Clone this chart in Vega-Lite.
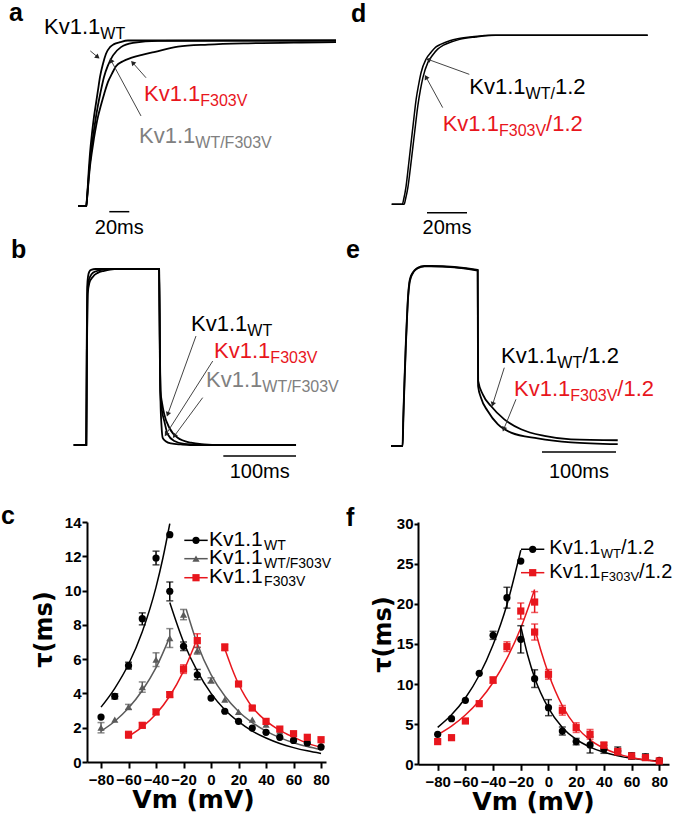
{
"$schema": "https://vega.github.io/schema/vega-lite/v6.json",
"padding": 0,
"background": "white",
"columns": 2,
"spacing": 0,
"bounds": "flush",
"resolve": {"scale": {"color": "independent", "shape": "independent"}},
"config": {
  "view": {"stroke": null},
  "font": "Liberation Sans",
  "axis": {"grid": false, "domainColor": "#000", "domainWidth": 2, "tickColor": "#000", "tickWidth": 2, "tickSize": 5, "labelFont": "Liberation Sans", "labelFontSize": 15, "labelFontWeight": "bold", "labelColor": "#000", "titleFont": "DejaVu Sans", "titleFontWeight": "bold", "titleColor": "#000"}
},
"concat": [
{
"width": 331, "height": 230,
"encoding": {
 "x": {"field": "t", "type": "quantitative", "scale": {"domain": [9, 340], "nice": false, "zero": false}, "axis": null},
 "y": {"field": "v", "type": "quantitative", "scale": {"domain": [-0.1511, 1.2387], "nice": false, "zero": false}, "axis": null}
},
"layer": [
 {"data": {"values": [
  {"run":"WT","t":0,"v":0},{"run":"WT","t":8,"v":0},{"run":"WT","t":9,"v":0.05},{"run":"WT","t":10,"v":0.14},{"run":"WT","t":11,"v":0.24},{"run":"WT","t":12,"v":0.32},{"run":"WT","t":14,"v":0.44},{"run":"WT","t":16,"v":0.54},{"run":"WT","t":18,"v":0.62},{"run":"WT","t":20,"v":0.7},{"run":"WT","t":22,"v":0.78},{"run":"WT","t":25,"v":0.86},{"run":"WT","t":28,"v":0.92},{"run":"WT","t":32,"v":0.96},{"run":"WT","t":36,"v":0.978},{"run":"WT","t":42,"v":0.99},{"run":"WT","t":50,"v":1},{"run":"WT","t":258,"v":1},
  {"run":"M","t":0,"v":0},{"run":"M","t":8.3,"v":0},{"run":"M","t":9,"v":0.04},{"run":"M","t":10,"v":0.12},{"run":"M","t":11,"v":0.2},{"run":"M","t":12,"v":0.26},{"run":"M","t":14,"v":0.37},{"run":"M","t":16,"v":0.46},{"run":"M","t":18,"v":0.54},{"run":"M","t":20,"v":0.61},{"run":"M","t":22.3,"v":0.68},{"run":"M","t":26,"v":0.78},{"run":"M","t":30,"v":0.85},{"run":"M","t":35,"v":0.91},{"run":"M","t":43,"v":0.96},{"run":"M","t":55,"v":0.985},{"run":"M","t":80,"v":0.998},{"run":"M","t":258,"v":1},
  {"run":"F","t":0,"v":0},{"run":"F","t":8.5,"v":0},{"run":"F","t":9,"v":0.04},{"run":"F","t":10,"v":0.11},{"run":"F","t":11,"v":0.18},{"run":"F","t":12,"v":0.24},{"run":"F","t":14,"v":0.33},{"run":"F","t":16,"v":0.41},{"run":"F","t":18,"v":0.48},{"run":"F","t":20,"v":0.54},{"run":"F","t":23,"v":0.61},{"run":"F","t":26.3,"v":0.68},{"run":"F","t":30,"v":0.75},{"run":"F","t":34,"v":0.8},{"run":"F","t":38,"v":0.845},{"run":"F","t":45,"v":0.875},{"run":"F","t":53,"v":0.895},{"run":"F","t":65,"v":0.915},{"run":"F","t":76,"v":0.93},{"run":"F","t":100,"v":0.963},{"run":"F","t":130,"v":0.975},{"run":"F","t":170,"v":0.983},{"run":"F","t":223,"v":0.988},{"run":"F","t":258,"v":0.99}
 ]}, "mark": {"type": "line", "color": "#000", "strokeWidth": 1.8, "interpolate": "monotone"}, "encoding": {"detail": {"field": "run", "type": "nominal"}}},
 {"data": {"values": [{"t": 31.3, "t2": 51.3, "v": -0.0344}]}, "mark": {"type": "rule", "color": "#000", "strokeWidth": 1.5}, "encoding": {"x2": {"field": "t2"}}},
 {"data": {"values": [{"t":12.3,"v":0.937,"t2":19.7,"v2":0.9},{"t":68,"v":0.775,"t2":54.7,"v2":0.866},{"t":63,"v":0.544,"t2":33,"v2":0.88}]}, "mark": {"type": "rule", "color": "#444", "strokeWidth": 1}, "encoding": {"x2": {"field": "t2"}, "y2": {"field": "v2"}}},
 {"data": {"values": [{"t": 19.7, "v": 0.9}]}, "mark": {"type": "point", "shape": "triangle-up", "filled": true, "size": 30, "angle": 129, "color": "#222", "opacity": 1}},
 {"data": {"values": [{"t": 54.7, "v": 0.866}]}, "mark": {"type": "point", "shape": "triangle-up", "filled": true, "size": 30, "angle": 318, "color": "#222", "opacity": 1}},
 {"data": {"values": [{"t": 33, "v": 0.88}]}, "mark": {"type": "point", "shape": "triangle-up", "filled": true, "size": 30, "angle": 332, "color": "#222", "opacity": 1}},
 {"data": {"values": [{"t":-34,"v":1.039,"label":"Kv1.1","variant":"WT"},{"t":66,"v":0.634,"label":"Kv1.1","variant":"F303V"},{"t":61,"v":0.382,"label":"Kv1.1","variant":"WT/F303V"}]},
  "mark": {"type": "text", "align": "left", "baseline": "alphabetic", "fontSize": 22, "font": "Liberation Sans"},
  "encoding": {"text": {"field": "label", "type": "nominal"}, "color": {"field": "variant", "type": "nominal", "scale": {"domain": ["WT", "F303V", "WT/F303V"], "range": ["#000000", "#e8161d", "#808080"]}, "legend": null}}},
 {"data": {"values": [{"t":22.3,"v":1.009,"label":"WT","variant":"WT"},{"t":122.3,"v":0.604,"label":"F303V","variant":"F303V"},{"t":117.3,"v":0.352,"label":"WT/F303V","variant":"WT/F303V"}]},
  "mark": {"type": "text", "align": "left", "baseline": "alphabetic", "fontSize": 16, "font": "Liberation Sans"},
  "encoding": {"text": {"field": "label", "type": "nominal"}, "color": {"field": "variant", "type": "nominal", "scale": {"domain": ["WT", "F303V", "WT/F303V"], "range": ["#000000", "#e8161d", "#808080"]}, "legend": null}}},
 {"data": {"values": [{"t": 41.3, "v": -0.169, "label": "20ms"}]}, "mark": {"type": "text", "align": "center", "baseline": "alphabetic", "fontSize": 20, "font": "Liberation Sans", "color": "#000"}, "encoding": {"text": {"field": "label", "type": "nominal"}}},
 {"data": {"values": [{"t": -69, "v": 1.118, "label": "a"}]}, "mark": {"type": "text", "align": "left", "baseline": "alphabetic", "fontSize": 25, "fontWeight": "bold", "font": "Liberation Sans", "color": "#000"}, "encoding": {"text": {"field": "label", "type": "nominal"}}}
]
},
{
"width": 258, "height": 230,
"encoding": {
 "x": {"field": "t", "type": "quantitative", "scale": {"domain": [13.15, 142.15], "nice": false, "zero": false}, "axis": null},
 "y": {"field": "v", "type": "quantitative", "scale": {"domain": [-0.158, 1.203], "nice": false, "zero": false}, "axis": null}
},
"layer": [
 {"data": {"values": [
  {"run":"A","t":0,"v":0},{"run":"A","t":5.3,"v":0},{"run":"A","t":6,"v":0.03},{"run":"A","t":7.2,"v":0.108},{"run":"A","t":8.5,"v":0.24},{"run":"A","t":9.7,"v":0.365},{"run":"A","t":11,"v":0.5},{"run":"A","t":12.2,"v":0.62},{"run":"A","t":13.5,"v":0.71},{"run":"A","t":14.7,"v":0.78},{"run":"A","t":17.2,"v":0.86},{"run":"A","t":19.7,"v":0.9},{"run":"A","t":22,"v":0.93},{"run":"A","t":24.7,"v":0.948},{"run":"A","t":29,"v":0.968},{"run":"A","t":33,"v":0.98},{"run":"A","t":41.3,"v":0.993},{"run":"A","t":50,"v":1},{"run":"A","t":128,"v":1},
  {"run":"B","t":0,"v":0},{"run":"B","t":6.2,"v":0},{"run":"B","t":6.9,"v":0.03},{"run":"B","t":8.1,"v":0.1},{"run":"B","t":9.4,"v":0.22},{"run":"B","t":10.6,"v":0.34},{"run":"B","t":11.9,"v":0.47},{"run":"B","t":13.1,"v":0.585},{"run":"B","t":14.4,"v":0.68},{"run":"B","t":15.6,"v":0.75},{"run":"B","t":18.1,"v":0.84},{"run":"B","t":20.6,"v":0.885},{"run":"B","t":23,"v":0.918},{"run":"B","t":25.6,"v":0.94},{"run":"B","t":30,"v":0.962},{"run":"B","t":34,"v":0.976},{"run":"B","t":42,"v":0.99},{"run":"B","t":52,"v":1},{"run":"B","t":128,"v":1}
 ]}, "mark": {"type": "line", "color": "#000", "strokeWidth": 1.5, "interpolate": "monotone"}, "encoding": {"detail": {"field": "run", "type": "nominal"}}},
 {"data": {"values": [{"t": 17.65, "t2": 37.65, "v": -0.0497}]}, "mark": {"type": "rule", "color": "#000", "strokeWidth": 1.5}, "encoding": {"x2": {"field": "t2"}}},
 {"data": {"values": [{"t":38.8,"v":0.769,"t2":18.3,"v2":0.857},{"t":25.5,"v":0.572,"t2":17.15,"v2":0.753}]}, "mark": {"type": "rule", "color": "#444", "strokeWidth": 1}, "encoding": {"x2": {"field": "t2"}, "y2": {"field": "v2"}}},
 {"data": {"values": [{"t": 18.3, "v": 0.857}]}, "mark": {"type": "point", "shape": "triangle-up", "filled": true, "size": 30, "angle": 290, "color": "#222", "opacity": 1}},
 {"data": {"values": [{"t": 17.15, "v": 0.753}]}, "mark": {"type": "point", "shape": "triangle-up", "filled": true, "size": 30, "angle": 331, "color": "#222", "opacity": 1}},
 {"data": {"values": [{"t":38.8,"v":0.651,"label":"Kv1.1","variant":"WT"},{"t":81.6,"v":0.651,"label":"1.2","variant":"WT"},{"t":25.5,"v":0.434,"label":"Kv1.1","variant":"F303V"},{"t":77.2,"v":0.434,"label":"/1.2","variant":"F303V"}]},
  "mark": {"type": "text", "align": "left", "baseline": "alphabetic", "fontSize": 22, "font": "Liberation Sans"},
  "encoding": {"text": {"field": "label", "type": "nominal"}, "color": {"field": "variant", "type": "nominal", "scale": {"domain": ["WT", "F303V"], "range": ["#000000", "#e8161d"]}, "legend": null}}},
 {"data": {"values": [{"t":66.95,"v":0.621,"label":"WT/","variant":"WT"},{"t":53.65,"v":0.404,"label":"F303V","variant":"F303V"}]},
  "mark": {"type": "text", "align": "left", "baseline": "alphabetic", "fontSize": 16, "font": "Liberation Sans"},
  "encoding": {"text": {"field": "label", "type": "nominal"}, "color": {"field": "variant", "type": "nominal", "scale": {"domain": ["WT", "F303V"], "range": ["#000000", "#e8161d"]}, "legend": null}}},
 {"data": {"values": [{"t": 27.65, "v": -0.176, "label": "20ms"}]}, "mark": {"type": "text", "align": "center", "baseline": "alphabetic", "fontSize": 20, "font": "Liberation Sans", "color": "#000"}, "encoding": {"text": {"field": "label", "type": "nominal"}}},
 {"data": {"values": [{"t": -20.35, "v": 1.078, "label": "d"}]}, "mark": {"type": "text", "align": "left", "baseline": "alphabetic", "fontSize": 25, "fontWeight": "bold", "font": "Liberation Sans", "color": "#000"}, "encoding": {"text": {"field": "label", "type": "nominal"}}}
]
},
{
"width": 331, "height": 291,
"encoding": {
 "x": {"field": "t", "type": "quantitative", "scale": {"domain": [18.29, 473.59], "nice": false, "zero": false}, "axis": null},
 "y": {"field": "v", "type": "quantitative", "scale": {"domain": [-0.4375, 1.2159], "nice": false, "zero": false}, "axis": null}
},
"layer": [
 {"data": {"values": [
  {"run":"A","t":0,"v":0},{"run":"A","t":17.2,"v":0},{"run":"A","t":17.8,"v":0.5},{"run":"A","t":18.6,"v":0.9},{"run":"A","t":19.8,"v":0.96},{"run":"A","t":21.5,"v":0.985},{"run":"A","t":24,"v":0.995},{"run":"A","t":30,"v":1},{"run":"A","t":117.5,"v":1},{"run":"A","t":118.5,"v":0.5},{"run":"A","t":119.4,"v":0.25},{"run":"A","t":120.8,"v":0.108},{"run":"A","t":122.4,"v":0.041},{"run":"A","t":127,"v":0.02},{"run":"A","t":133.8,"v":0.009},{"run":"A","t":147.6,"v":0.003},{"run":"A","t":160,"v":0},{"run":"A","t":305.8,"v":0},
  {"run":"B","t":0,"v":0},{"run":"B","t":17.3,"v":0},{"run":"B","t":18,"v":0.5},{"run":"B","t":19,"v":0.88},{"run":"B","t":20.5,"v":0.93},{"run":"B","t":23,"v":0.96},{"run":"B","t":27,"v":0.98},{"run":"B","t":33,"v":0.99},{"run":"B","t":45,"v":1},{"run":"B","t":117.5,"v":1},{"run":"B","t":118.5,"v":0.55},{"run":"B","t":119.4,"v":0.278},{"run":"B","t":121.5,"v":0.193},{"run":"B","t":124.6,"v":0.136},{"run":"B","t":129.3,"v":0.061},{"run":"B","t":138.4,"v":0.023},{"run":"B","t":152.1,"v":0.007},{"run":"B","t":175,"v":0.001},{"run":"B","t":190,"v":0},{"run":"B","t":305.8,"v":0},
  {"run":"C","t":0,"v":0},{"run":"C","t":17.4,"v":0},{"run":"C","t":18.2,"v":0.5},{"run":"C","t":19.3,"v":0.86},{"run":"C","t":21.5,"v":0.92},{"run":"C","t":26.2,"v":0.955},{"run":"C","t":33,"v":0.978},{"run":"C","t":42,"v":0.99},{"run":"C","t":56,"v":1},{"run":"C","t":117.5,"v":1},{"run":"C","t":118.5,"v":0.6},{"run":"C","t":119.4,"v":0.307},{"run":"C","t":121.5,"v":0.239},{"run":"C","t":124.6,"v":0.174},{"run":"C","t":131.5,"v":0.098},{"run":"C","t":143,"v":0.041},{"run":"C","t":161.3,"v":0.013},{"run":"C","t":179.6,"v":0.004},{"run":"C","t":200,"v":0},{"run":"C","t":305.8,"v":0}
 ]}, "mark": {"type": "line", "color": "#000", "strokeWidth": 1.8, "interpolate": "monotone"}, "encoding": {"detail": {"field": "run", "type": "nominal"}}},
 {"data": {"values": [{"t": 205.8, "t2": 305.8, "v": -0.0625}]}, "mark": {"type": "rule", "color": "#000", "strokeWidth": 1.5}, "encoding": {"x2": {"field": "t2"}}},
 {"data": {"values": [{"t":168.2,"v":0.619,"t2":129.3,"v2":0.174},{"t":191.2,"v":0.477,"t2":127,"v2":0.061},{"t":177.4,"v":0.269,"t2":138.4,"v2":0.051}]}, "mark": {"type": "rule", "color": "#444", "strokeWidth": 1}, "encoding": {"x2": {"field": "t2"}, "y2": {"field": "v2"}}},
 {"data": {"values": [{"t": 129.3, "v": 0.174}]}, "mark": {"type": "point", "shape": "triangle-up", "filled": true, "size": 30, "angle": 200, "color": "#222", "opacity": 1}},
 {"data": {"values": [{"t": 127, "v": 0.061}]}, "mark": {"type": "point", "shape": "triangle-up", "filled": true, "size": 30, "angle": 212, "color": "#222", "opacity": 1}},
 {"data": {"values": [{"t": 138.4, "v": 0.051}]}, "mark": {"type": "point", "shape": "triangle-up", "filled": true, "size": 30, "angle": 217, "color": "#222", "opacity": 1}},
 {"data": {"values": [{"t":161.3,"v":0.648,"label":"Kv1.1","variant":"WT"},{"t":193,"v":0.496,"label":"Kv1.1","variant":"F303V"},{"t":182,"v":0.3295,"label":"Kv1.1","variant":"WT/F303V"}]},
  "mark": {"type": "text", "align": "left", "baseline": "alphabetic", "fontSize": 22, "font": "Liberation Sans"},
  "encoding": {"text": {"field": "label", "type": "nominal"}, "color": {"field": "variant", "type": "nominal", "scale": {"domain": ["WT", "F303V", "WT/F303V"], "range": ["#000000", "#e8161d", "#808080"]}, "legend": null}}},
 {"data": {"values": [{"t":238.8,"v":0.619,"label":"WT","variant":"WT"},{"t":270.5,"v":0.468,"label":"F303V","variant":"F303V"},{"t":259.4,"v":0.301,"label":"WT/F303V","variant":"WT/F303V"}]},
  "mark": {"type": "text", "align": "left", "baseline": "alphabetic", "fontSize": 16, "font": "Liberation Sans"},
  "encoding": {"text": {"field": "label", "type": "nominal"}, "color": {"field": "variant", "type": "nominal", "scale": {"domain": ["WT", "F303V", "WT/F303V"], "range": ["#000000", "#e8161d", "#808080"]}, "legend": null}}},
 {"data": {"values": [{"t": 255.8, "v": -0.1875, "label": "100ms"}]}, "mark": {"type": "text", "align": "center", "baseline": "alphabetic", "fontSize": 20, "font": "Liberation Sans", "color": "#000"}, "encoding": {"text": {"field": "label", "type": "nominal"}}},
 {"data": {"values": [{"t": -86.2, "v": 1.0625, "label": "b"}]}, "mark": {"type": "text", "align": "left", "baseline": "alphabetic", "fontSize": 25, "fontWeight": "bold", "font": "Liberation Sans", "color": "#000"}, "encoding": {"text": {"field": "label", "type": "nominal"}}}
]
},
{
"width": 258, "height": 291,
"encoding": {
 "x": {"field": "t", "type": "quantitative", "scale": {"domain": [36.49, 385.14], "nice": false, "zero": false}, "axis": null},
 "y": {"field": "v", "type": "quantitative", "scale": {"domain": [-0.4222, 1.1944], "nice": false, "zero": false}, "axis": null}
},
"layer": [
 {"data": {"values": [
  {"run":"A","t":0,"v":0},{"run":"A","t":15.6,"v":0},{"run":"A","t":16.5,"v":0.15},{"run":"A","t":18.5,"v":0.4},{"run":"A","t":20,"v":0.57},{"run":"A","t":21.6,"v":0.72},{"run":"A","t":23,"v":0.83},{"run":"A","t":24.7,"v":0.907},{"run":"A","t":27,"v":0.945},{"run":"A","t":29.3,"v":0.963},{"run":"A","t":32,"v":0.977},{"run":"A","t":36.1,"v":0.99},{"run":"A","t":45,"v":1},{"run":"A","t":54,"v":1},{"run":"A","t":117.2,"v":0.978},{"run":"A","t":117.5,"v":0.6},{"run":"A","t":117.8,"v":0.361},{"run":"A","t":124,"v":0.287},{"run":"A","t":135.1,"v":0.222},{"run":"A","t":153.1,"v":0.148},{"run":"A","t":175.7,"v":0.093},{"run":"A","t":207.2,"v":0.056},{"run":"A","t":243.2,"v":0.037},{"run":"A","t":306.4,"v":0.032},
  {"run":"B","t":0,"v":0},{"run":"B","t":15.8,"v":0},{"run":"B","t":16.7,"v":0.15},{"run":"B","t":18.7,"v":0.4},{"run":"B","t":20.2,"v":0.57},{"run":"B","t":21.8,"v":0.72},{"run":"B","t":23.2,"v":0.83},{"run":"B","t":24.9,"v":0.9},{"run":"B","t":27.2,"v":0.94},{"run":"B","t":29.5,"v":0.96},{"run":"B","t":32.2,"v":0.975},{"run":"B","t":36.3,"v":0.988},{"run":"B","t":45.2,"v":0.998},{"run":"B","t":54,"v":0.998},{"run":"B","t":117.1,"v":0.975},{"run":"B","t":117.4,"v":0.6},{"run":"B","t":117.7,"v":0.333},{"run":"B","t":121.6,"v":0.268},{"run":"B","t":130.7,"v":0.194},{"run":"B","t":144.2,"v":0.121},{"run":"B","t":162.2,"v":0.074},{"run":"B","t":198.2,"v":0.042},{"run":"B","t":243.2,"v":0.02},{"run":"B","t":306.4,"v":0.01}
 ]}, "mark": {"type": "line", "color": "#000", "strokeWidth": 1.8, "interpolate": "monotone"}, "encoding": {"detail": {"field": "run", "type": "nominal"}}},
 {"data": {"values": [{"t": 204.05, "t2": 304.05, "v": -0.0333}]}, "mark": {"type": "rule", "color": "#000", "strokeWidth": 1.5}, "encoding": {"x2": {"field": "t2"}}},
 {"data": {"values": [{"t":153.1,"v":0.435,"t2":137.4,"v2":0.2317},{"t":168.9,"v":0.2594,"t2":152.3,"v2":0.0928}]}, "mark": {"type": "rule", "color": "#444", "strokeWidth": 1}, "encoding": {"x2": {"field": "t2"}, "y2": {"field": "v2"}}},
 {"data": {"values": [{"t": 137.4, "v": 0.2317}]}, "mark": {"type": "point", "shape": "triangle-up", "filled": true, "size": 30, "angle": 198, "color": "#222", "opacity": 1}},
 {"data": {"values": [{"t": 152.3, "v": 0.0928}]}, "mark": {"type": "point", "shape": "triangle-up", "filled": true, "size": 30, "angle": 202, "color": "#222", "opacity": 1}},
 {"data": {"values": [{"t":148.6,"v":0.4628,"label":"Kv1.1","variant":"WT"},{"t":258.4,"v":0.4628,"label":"/1.2","variant":"WT"},{"t":166.2,"v":0.2778,"label":"Kv1.1","variant":"F303V"},{"t":305.9,"v":0.2778,"label":"/1.2","variant":"F303V"}]},
  "mark": {"type": "text", "align": "left", "baseline": "alphabetic", "fontSize": 22, "font": "Liberation Sans"},
  "encoding": {"text": {"field": "label", "type": "nominal"}, "color": {"field": "variant", "type": "nominal", "scale": {"domain": ["WT", "F303V"], "range": ["#000000", "#e8161d"]}, "legend": null}}},
 {"data": {"values": [{"t":224.7,"v":0.435,"label":"WT","variant":"WT"},{"t":242.3,"v":0.25,"label":"F303V","variant":"F303V"}]},
  "mark": {"type": "text", "align": "left", "baseline": "alphabetic", "fontSize": 16, "font": "Liberation Sans"},
  "encoding": {"text": {"field": "label", "type": "nominal"}, "color": {"field": "variant", "type": "nominal", "scale": {"domain": ["WT", "F303V"], "range": ["#000000", "#e8161d"]}, "legend": null}}},
 {"data": {"values": [{"t": 254, "v": -0.178, "label": "100ms"}]}, "mark": {"type": "text", "align": "center", "baseline": "alphabetic", "fontSize": 20, "font": "Liberation Sans", "color": "#000"}, "encoding": {"text": {"field": "label", "type": "nominal"}}},
 {"data": {"values": [{"t": -60.8, "v": 1.0444, "label": "e"}]}, "mark": {"type": "text", "align": "left", "baseline": "alphabetic", "fontSize": 25, "fontWeight": "bold", "font": "Liberation Sans", "color": "#000"}, "encoding": {"text": {"field": "label", "type": "nominal"}}}
]
},
{
"width": 239, "height": 240,
"encoding": {
 "x": {"field": "Vm", "type": "quantitative", "scale": {"domain": [-90.2, 83.6], "nice": false, "zero": false}, "axis": {"values": [-80,-60,-40,-20,0,20,40,60,80], "title": "Vm (mV)", "titleFontSize": 25, "titlePadding": 0, "titleX": 106, "labelPadding": 4, "tickSize": 6}},
 "y": {"field": "tau", "type": "quantitative", "scale": {"domain": [0, 14], "nice": false, "zero": false}, "axis": {"values": [0,2,4,6,8,10,12,14], "title": "τ(ms)", "titleFontSize": 24, "titleX": -31, "titleY": 107, "titleAlign": "center", "titleBaseline": "bottom", "titleAngle": 270, "labelPadding": 1, "tickSize": 5}}
},
"layer": [
 {"data": {"values": [
  {"variant":"WT","branch":"a","Vm":-80,"tau":3.2},{"variant":"WT","branch":"a","Vm":-70,"tau":4.3},{"variant":"WT","branch":"a","Vm":-60,"tau":5.7},{"variant":"WT","branch":"a","Vm":-50,"tau":7.6},{"variant":"WT","branch":"a","Vm":-40,"tau":10.2},{"variant":"WT","branch":"a","Vm":-35,"tau":11.9},{"variant":"WT","branch":"a","Vm":-30,"tau":13.9},
  {"variant":"WT","branch":"b","Vm":-30,"tau":9.3},{"variant":"WT","branch":"b","Vm":-20,"tau":7.0},{"variant":"WT","branch":"b","Vm":-10,"tau":5.3},{"variant":"WT","branch":"b","Vm":0,"tau":4.0},{"variant":"WT","branch":"b","Vm":10,"tau":3.05},{"variant":"WT","branch":"b","Vm":20,"tau":2.35},{"variant":"WT","branch":"b","Vm":30,"tau":1.8},{"variant":"WT","branch":"b","Vm":40,"tau":1.4},{"variant":"WT","branch":"b","Vm":50,"tau":1.08},{"variant":"WT","branch":"b","Vm":60,"tau":0.84},{"variant":"WT","branch":"b","Vm":70,"tau":0.65},{"variant":"WT","branch":"b","Vm":80,"tau":0.5},
  {"variant":"WT/F303V","branch":"c","Vm":-80,"tau":1.8},{"variant":"WT/F303V","branch":"c","Vm":-70,"tau":2.38},{"variant":"WT/F303V","branch":"c","Vm":-60,"tau":3.15},{"variant":"WT/F303V","branch":"c","Vm":-50,"tau":4.17},{"variant":"WT/F303V","branch":"c","Vm":-40,"tau":5.5},{"variant":"WT/F303V","branch":"c","Vm":-30,"tau":7.3},
  {"variant":"WT/F303V","branch":"d","Vm":-18,"tau":8.9},{"variant":"WT/F303V","branch":"d","Vm":-10,"tau":6.9},{"variant":"WT/F303V","branch":"d","Vm":0,"tau":5.1},{"variant":"WT/F303V","branch":"d","Vm":10,"tau":3.85},{"variant":"WT/F303V","branch":"d","Vm":20,"tau":2.95},{"variant":"WT/F303V","branch":"d","Vm":30,"tau":2.3},{"variant":"WT/F303V","branch":"d","Vm":40,"tau":1.8},{"variant":"WT/F303V","branch":"d","Vm":50,"tau":1.42},{"variant":"WT/F303V","branch":"d","Vm":60,"tau":1.12},{"variant":"WT/F303V","branch":"d","Vm":70,"tau":0.9},{"variant":"WT/F303V","branch":"d","Vm":80,"tau":0.72},
  {"variant":"F303V","branch":"e","Vm":-60,"tau":1.5},{"variant":"F303V","branch":"e","Vm":-50,"tau":2.05},{"variant":"F303V","branch":"e","Vm":-40,"tau":2.8},{"variant":"F303V","branch":"e","Vm":-30,"tau":3.85},{"variant":"F303V","branch":"e","Vm":-20,"tau":5.3},{"variant":"F303V","branch":"e","Vm":-10,"tau":7.2},
  {"variant":"F303V","branch":"f","Vm":10,"tau":6.6},{"variant":"F303V","branch":"f","Vm":15,"tau":5.5},{"variant":"F303V","branch":"f","Vm":20,"tau":4.55},{"variant":"F303V","branch":"f","Vm":25,"tau":3.8},{"variant":"F303V","branch":"f","Vm":30,"tau":3.2},{"variant":"F303V","branch":"f","Vm":40,"tau":2.4},{"variant":"F303V","branch":"f","Vm":50,"tau":1.85},{"variant":"F303V","branch":"f","Vm":60,"tau":1.45},{"variant":"F303V","branch":"f","Vm":70,"tau":1.1},{"variant":"F303V","branch":"f","Vm":80,"tau":0.85}
 ]}, "mark": {"type": "line", "strokeWidth": 1.5, "interpolate": "monotone"},
  "encoding": {"detail": {"field": "branch", "type": "nominal"}, "color": {"field": "variant", "type": "nominal", "scale": {"domain": ["WT", "WT/F303V", "F303V"], "range": ["#000000", "#5a5a5a", "#e8161d"]}, "legend": null}}},
 {"data": {"values": [
  {"variant":"WT","Vm":-70,"tau":3.68,"hi":3.98},{"variant":"WT","Vm":-60,"tau":5.42,"hi":5.82},{"variant":"WT","Vm":-50,"tau":8.0,"hi":8.7},{"variant":"WT","Vm":-40,"tau":11.5,"hi":12.3},{"variant":"WT","Vm":-30,"tau":9.4,"hi":10.5},{"variant":"WT","Vm":-20,"tau":6.5,"hi":7.0},{"variant":"WT","Vm":-10,"tau":4.8,"hi":5.4},
  {"variant":"WT/F303V","Vm":-80,"tau":1.7,"hi":2.3},{"variant":"WT/F303V","Vm":-60,"tau":3.06,"hi":3.36},{"variant":"WT/F303V","Vm":-50,"tau":4.07,"hi":4.67},{"variant":"WT/F303V","Vm":-40,"tau":5.57,"hi":6.37},{"variant":"WT/F303V","Vm":-30,"tau":6.68,"hi":7.78},{"variant":"WT/F303V","Vm":-20,"tau":8.3,"hi":8.9},{"variant":"WT/F303V","Vm":-10,"tau":6.29,"hi":6.69},{"variant":"WT/F303V","Vm":0,"tau":4.61,"hi":4.91},
  {"variant":"F303V","Vm":-60,"tau":1.39,"hi":1.79},{"variant":"F303V","Vm":-50,"tau":1.99,"hi":2.29},{"variant":"F303V","Vm":-40,"tau":2.77,"hi":3.07},{"variant":"F303V","Vm":-30,"tau":3.78,"hi":4.08},{"variant":"F303V","Vm":-20,"tau":5.17,"hi":5.67},{"variant":"F303V","Vm":-10,"tau":6.68,"hi":7.48},{"variant":"F303V","Vm":10,"tau":6.49,"hi":6.89},{"variant":"F303V","Vm":20,"tau":4.45,"hi":4.65},{"variant":"F303V","Vm":30,"tau":3.05,"hi":3.25}
 ]}, "mark": {"type": "errorbar", "ticks": true, "size": 7, "thickness": 1.5},
  "encoding": {"y2": {"field": "hi"}, "color": {"field": "variant", "type": "nominal", "scale": {"domain": ["WT", "WT/F303V", "F303V"], "range": ["#000000", "#5a5a5a", "#e8161d"]}, "legend": null}}},
 {"data": {"values": [
  {"variant":"WT/F303V","Vm":-80,"tau":2.0},{"variant":"WT/F303V","Vm":-70,"tau":2.47},{"variant":"WT/F303V","Vm":-60,"tau":3.21},{"variant":"WT/F303V","Vm":-50,"tau":4.37},{"variant":"WT/F303V","Vm":-40,"tau":5.97},{"variant":"WT/F303V","Vm":-30,"tau":7.23},{"variant":"WT/F303V","Vm":-20,"tau":8.6},{"variant":"WT/F303V","Vm":-10,"tau":6.49},{"variant":"WT/F303V","Vm":0,"tau":4.76},{"variant":"WT/F303V","Vm":10,"tau":3.64},{"variant":"WT/F303V","Vm":20,"tau":2.92},{"variant":"WT/F303V","Vm":30,"tau":2.47},{"variant":"WT/F303V","Vm":40,"tau":2.18},{"variant":"WT/F303V","Vm":50,"tau":1.79},{"variant":"WT/F303V","Vm":60,"tau":1.45},{"variant":"WT/F303V","Vm":70,"tau":1.25},{"variant":"WT/F303V","Vm":80,"tau":1.05},
  {"variant":"WT","Vm":-80,"tau":2.62},{"variant":"WT","Vm":-70,"tau":3.83},{"variant":"WT","Vm":-60,"tau":5.62},{"variant":"WT","Vm":-50,"tau":8.36},{"variant":"WT","Vm":-40,"tau":11.9},{"variant":"WT","Vm":-30,"tau":13.26},{"variant":"WT","Vm":-30,"tau":9.96},{"variant":"WT","Vm":-20,"tau":6.75},{"variant":"WT","Vm":-10,"tau":5.09},{"variant":"WT","Vm":0,"tau":3.73},{"variant":"WT","Vm":10,"tau":2.96},{"variant":"WT","Vm":20,"tau":2.37},{"variant":"WT","Vm":30,"tau":1.98},{"variant":"WT","Vm":40,"tau":1.73},{"variant":"WT","Vm":50,"tau":1.44},{"variant":"WT","Vm":60,"tau":1.26},{"variant":"WT","Vm":70,"tau":1.11},{"variant":"WT","Vm":80,"tau":0.87},
  {"variant":"F303V","Vm":-60,"tau":1.59},{"variant":"F303V","Vm":-50,"tau":2.14},{"variant":"F303V","Vm":-40,"tau":2.92},{"variant":"F303V","Vm":-30,"tau":3.93},{"variant":"F303V","Vm":-20,"tau":5.42},{"variant":"F303V","Vm":-10,"tau":7.08},{"variant":"F303V","Vm":10,"tau":6.69},{"variant":"F303V","Vm":20,"tau":4.55},{"variant":"F303V","Vm":30,"tau":3.15},{"variant":"F303V","Vm":40,"tau":2.37},{"variant":"F303V","Vm":50,"tau":1.92},{"variant":"F303V","Vm":60,"tau":1.65},{"variant":"F303V","Vm":70,"tau":1.44},{"variant":"F303V","Vm":80,"tau":1.3}
 ]}, "mark": {"type": "point", "filled": true, "size": 52, "opacity": 1},
  "encoding": {"color": {"field": "variant", "type": "nominal", "scale": {"domain": ["WT", "WT/F303V", "F303V"], "range": ["#000000", "#6a6a6a", "#e8161d"]}, "legend": null}, "shape": {"field": "variant", "type": "nominal", "scale": {"domain": ["WT", "WT/F303V", "F303V"], "range": ["circle", "triangle-up", "square"]}, "legend": null}}},
 {"data": {"values": [{"variant":"WT","Vm":-19.44,"Vm2":-2.43,"tau":12.93},{"variant":"WT/F303V","Vm":-19.44,"Vm2":-2.43,"tau":11.86},{"variant":"F303V","Vm":-19.44,"Vm2":-2.43,"tau":10.75}]},
  "mark": {"type": "rule", "strokeWidth": 1.5},
  "encoding": {"x2": {"field": "Vm2"}, "color": {"field": "variant", "type": "nominal", "scale": {"domain": ["WT", "WT/F303V", "F303V"], "range": ["#000000", "#5a5a5a", "#e8161d"]}, "legend": null}}},
 {"data": {"values": [{"variant":"WT","Vm":-10.93,"tau":12.93},{"variant":"WT/F303V","Vm":-10.93,"tau":11.86},{"variant":"F303V","Vm":-10.93,"tau":10.75}]},
  "mark": {"type": "point", "filled": true, "size": 52, "opacity": 1},
  "encoding": {"color": {"field": "variant", "type": "nominal", "scale": {"domain": ["WT", "WT/F303V", "F303V"], "range": ["#000000", "#6a6a6a", "#e8161d"]}, "legend": null}, "shape": {"field": "variant", "type": "nominal", "scale": {"domain": ["WT", "WT/F303V", "F303V"], "range": ["circle", "triangle-up", "square"]}, "legend": null}}},
 {"data": {"values": [{"Vm":-1.48,"tau":12.6,"label":"Kv1.1"},{"Vm":-1.48,"tau":11.53,"label":"Kv1.1"},{"Vm":-1.48,"tau":10.46,"label":"Kv1.1"}]},
  "mark": {"type": "text", "align": "left", "baseline": "alphabetic", "fontSize": 21, "font": "Liberation Sans", "color": "#000"}, "encoding": {"text": {"field": "label", "type": "nominal"}}},
 {"data": {"values": [{"Vm":38.6,"tau":12.38,"label":"WT"},{"Vm":38.6,"tau":11.31,"label":"WT/F303V"},{"Vm":38.6,"tau":10.24,"label":"F303V"}]},
  "mark": {"type": "text", "align": "left", "baseline": "alphabetic", "fontSize": 14, "font": "Liberation Sans", "color": "#000"}, "encoding": {"text": {"field": "label", "type": "nominal"}}},
 {"data": {"values": [{"Vm": -152.74, "tau": 13.88, "label": "c"}]}, "mark": {"type": "text", "align": "left", "baseline": "alphabetic", "fontSize": 25, "fontWeight": "bold", "font": "Liberation Sans", "color": "#000"}, "encoding": {"text": {"field": "label", "type": "nominal"}}}
]
},
{
"width": 251, "height": 242.3,
"encoding": {
 "x": {"field": "Vm", "type": "quantitative", "scale": {"domain": [-94.2, 87.0], "nice": false, "zero": false}, "axis": {"values": [-80,-60,-40,-20,0,20,40,60,80], "title": "Vm (mV)", "titleFontSize": 25, "titlePadding": 0, "titleX": 115, "labelPadding": 4, "tickSize": 6}},
 "y": {"field": "tau", "type": "quantitative", "scale": {"domain": [0, 30.21], "nice": false, "zero": false}, "axis": {"values": [0,5,10,15,20,25,30], "title": "τ(ms)", "titleFontSize": 24, "titlePadding": 1, "titleY": 112, "titleAlign": "center", "labelPadding": 1, "tickSize": 4}}
},
"layer": [
 {"data": {"values": [
  {"variant":"WT","branch":"a","Vm":-80,"tau":4.6},{"variant":"WT","branch":"a","Vm":-70,"tau":6.17},{"variant":"WT","branch":"a","Vm":-60,"tau":8.27},{"variant":"WT","branch":"a","Vm":-50,"tau":11.1},{"variant":"WT","branch":"a","Vm":-40,"tau":14.9},{"variant":"WT","branch":"a","Vm":-30,"tau":19.9},{"variant":"WT","branch":"a","Vm":-20,"tau":26.7},
  {"variant":"WT","branch":"b","Vm":-20,"tau":17.2},{"variant":"WT","branch":"b","Vm":-15,"tau":13.6},{"variant":"WT","branch":"b","Vm":-10,"tau":10.8},{"variant":"WT","branch":"b","Vm":0,"tau":7.0},{"variant":"WT","branch":"b","Vm":10,"tau":4.6},{"variant":"WT","branch":"b","Vm":20,"tau":3.1},{"variant":"WT","branch":"b","Vm":30,"tau":2.15},{"variant":"WT","branch":"b","Vm":40,"tau":1.5},{"variant":"WT","branch":"b","Vm":50,"tau":1.05},{"variant":"WT","branch":"b","Vm":60,"tau":0.75},{"variant":"WT","branch":"b","Vm":70,"tau":0.55},{"variant":"WT","branch":"b","Vm":80,"tau":0.4},
  {"variant":"F303V","branch":"c","Vm":-80,"tau":3.7},{"variant":"F303V","branch":"c","Vm":-70,"tau":4.77},{"variant":"F303V","branch":"c","Vm":-60,"tau":6.15},{"variant":"F303V","branch":"c","Vm":-50,"tau":7.93},{"variant":"F303V","branch":"c","Vm":-40,"tau":10.2},{"variant":"F303V","branch":"c","Vm":-30,"tau":13.2},{"variant":"F303V","branch":"c","Vm":-20,"tau":17.0},{"variant":"F303V","branch":"c","Vm":-10,"tau":21.8},
  {"variant":"F303V","branch":"d","Vm":-10,"tau":17.0},{"variant":"F303V","branch":"d","Vm":-5,"tau":13.9},{"variant":"F303V","branch":"d","Vm":0,"tau":11.3},{"variant":"F303V","branch":"d","Vm":10,"tau":7.3},{"variant":"F303V","branch":"d","Vm":20,"tau":4.7},{"variant":"F303V","branch":"d","Vm":30,"tau":3.05},{"variant":"F303V","branch":"d","Vm":40,"tau":2.0},{"variant":"F303V","branch":"d","Vm":50,"tau":1.3},{"variant":"F303V","branch":"d","Vm":60,"tau":0.85},{"variant":"F303V","branch":"d","Vm":70,"tau":0.55},{"variant":"F303V","branch":"d","Vm":80,"tau":0.35}
 ]}, "mark": {"type": "line", "strokeWidth": 1.5, "interpolate": "monotone"},
  "encoding": {"detail": {"field": "branch", "type": "nominal"}, "color": {"field": "variant", "type": "nominal", "scale": {"domain": ["WT", "F303V"], "range": ["#000000", "#e8161d"]}, "legend": null}}},
 {"data": {"values": [
  {"variant":"WT","Vm":-40,"tau":15.58,"hi":16.58},{"variant":"WT","Vm":-30,"tau":19.47,"hi":22.07},{"variant":"WT","Vm":-20,"tau":13.88,"hi":17.28},{"variant":"WT","Vm":-10,"tau":9.58,"hi":11.78},{"variant":"WT","Vm":0,"tau":6.06,"hi":8.06},{"variant":"WT","Vm":10,"tau":3.65,"hi":4.65},{"variant":"WT","Vm":20,"tau":2.43,"hi":3.23},{"variant":"WT","Vm":30,"tau":1.41,"hi":3.41},{"variant":"WT","Vm":40,"tau":1.37,"hi":2.37},{"variant":"WT","Vm":50,"tau":1.16,"hi":2.16},{"variant":"WT","Vm":60,"tau":0.64,"hi":1.44},{"variant":"WT","Vm":70,"tau":0.51,"hi":1.31},
  {"variant":"F303V","Vm":-40,"tau":10.1,"hi":10.9},{"variant":"F303V","Vm":-30,"tau":14.07,"hi":15.27},{"variant":"F303V","Vm":-20,"tau":18.11,"hi":20.11},{"variant":"F303V","Vm":-10,"tau":18.93,"hi":21.53},{"variant":"F303V","Vm":-10,"tau":15.49,"hi":17.49},{"variant":"F303V","Vm":0,"tau":10.62,"hi":11.82},{"variant":"F303V","Vm":10,"tau":6.13,"hi":7.33},{"variant":"F303V","Vm":20,"tau":3.97,"hi":5.17},{"variant":"F303V","Vm":30,"tau":3.14,"hi":4.34},{"variant":"F303V","Vm":40,"tau":1.97,"hi":2.77},{"variant":"F303V","Vm":50,"tau":1.18,"hi":1.98}
 ]}, "mark": {"type": "errorbar", "ticks": true, "size": 7, "thickness": 1.5},
  "encoding": {"y2": {"field": "hi"}, "color": {"field": "variant", "type": "nominal", "scale": {"domain": ["WT", "F303V"], "range": ["#000000", "#e8161d"]}, "legend": null}}},
 {"data": {"values": [
  {"variant":"WT","Vm":-80,"tau":3.74},{"variant":"WT","Vm":-70,"tau":5.69},{"variant":"WT","Vm":-60,"tau":7.98},{"variant":"WT","Vm":-50,"tau":11.34},{"variant":"WT","Vm":-40,"tau":16.08},{"variant":"WT","Vm":-30,"tau":20.77},{"variant":"WT","Vm":-20,"tau":25.34},{"variant":"WT","Vm":-20,"tau":15.58},{"variant":"WT","Vm":-10,"tau":10.68},{"variant":"WT","Vm":0,"tau":7.06},{"variant":"WT","Vm":10,"tau":4.15},{"variant":"WT","Vm":20,"tau":2.83},{"variant":"WT","Vm":30,"tau":2.41},{"variant":"WT","Vm":40,"tau":1.87},{"variant":"WT","Vm":50,"tau":1.66},{"variant":"WT","Vm":60,"tau":1.04},{"variant":"WT","Vm":70,"tau":0.91},{"variant":"WT","Vm":80,"tau":0.5},
  {"variant":"F303V","Vm":-80,"tau":2.83},{"variant":"F303V","Vm":-70,"tau":3.32},{"variant":"F303V","Vm":-60,"tau":5.4},{"variant":"F303V","Vm":-50,"tau":7.56},{"variant":"F303V","Vm":-40,"tau":10.5},{"variant":"F303V","Vm":-30,"tau":14.67},{"variant":"F303V","Vm":-20,"tau":19.11},{"variant":"F303V","Vm":-10,"tau":20.23},{"variant":"F303V","Vm":-10,"tau":16.49},{"variant":"F303V","Vm":0,"tau":11.22},{"variant":"F303V","Vm":10,"tau":6.73},{"variant":"F303V","Vm":20,"tau":4.57},{"variant":"F303V","Vm":30,"tau":3.74},{"variant":"F303V","Vm":40,"tau":2.37},{"variant":"F303V","Vm":50,"tau":1.58},{"variant":"F303V","Vm":60,"tau":1.04},{"variant":"F303V","Vm":70,"tau":0.83},{"variant":"F303V","Vm":80,"tau":0.42}
 ]}, "mark": {"type": "point", "filled": true, "size": 52, "opacity": 1},
  "encoding": {"color": {"field": "variant", "type": "nominal", "scale": {"domain": ["WT", "F303V"], "range": ["#000000", "#e8161d"]}, "legend": null}, "shape": {"field": "variant", "type": "nominal", "scale": {"domain": ["WT", "F303V"], "range": ["circle", "square"]}, "legend": null}}},
 {"data": {"values": [{"variant":"WT","Vm":-19.84,"Vm2":-3.02,"tau":26.81},{"variant":"F303V","Vm":-19.84,"Vm2":-3.02,"tau":23.89}]},
  "mark": {"type": "rule", "strokeWidth": 1.5},
  "encoding": {"x2": {"field": "Vm2"}, "color": {"field": "variant", "type": "nominal", "scale": {"domain": ["WT", "F303V"], "range": ["#000000", "#e8161d"]}, "legend": null}}},
 {"data": {"values": [{"variant":"WT","Vm":-11.4,"tau":26.81},{"variant":"F303V","Vm":-11.4,"tau":23.89}]},
  "mark": {"type": "point", "filled": true, "size": 52, "opacity": 1},
  "encoding": {"color": {"field": "variant", "type": "nominal", "scale": {"domain": ["WT", "F303V"], "range": ["#000000", "#e8161d"]}, "legend": null}, "shape": {"field": "variant", "type": "nominal", "scale": {"domain": ["WT", "F303V"], "range": ["circle", "square"]}, "legend": null}}},
 {"data": {"values": [{"Vm":0.59,"tau":26.18,"label":"Kv1.1"},{"Vm":52.3,"tau":26.18,"label":"/1.2"},{"Vm":0.59,"tau":23.27,"label":"Kv1.1"},{"Vm":65.3,"tau":23.27,"label":"/1.2"}]},
  "mark": {"type": "text", "align": "left", "baseline": "alphabetic", "fontSize": 20, "font": "Liberation Sans", "color": "#000"}, "encoding": {"text": {"field": "label", "type": "nominal"}}},
 {"data": {"values": [{"Vm":37.8,"tau":25.72,"label":"WT"},{"Vm":37.8,"tau":22.8,"label":"F303V"}]},
  "mark": {"type": "text", "align": "left", "baseline": "alphabetic", "fontSize": 13, "font": "Liberation Sans", "color": "#000"}, "encoding": {"text": {"field": "label", "type": "nominal"}}},
 {"data": {"values": [{"Vm": -146.18, "tau": 29.71, "label": "f"}]}, "mark": {"type": "text", "align": "left", "baseline": "alphabetic", "fontSize": 25, "fontWeight": "bold", "font": "Liberation Sans", "color": "#000"}, "encoding": {"text": {"field": "label", "type": "nominal"}}}
]
}
]
}
